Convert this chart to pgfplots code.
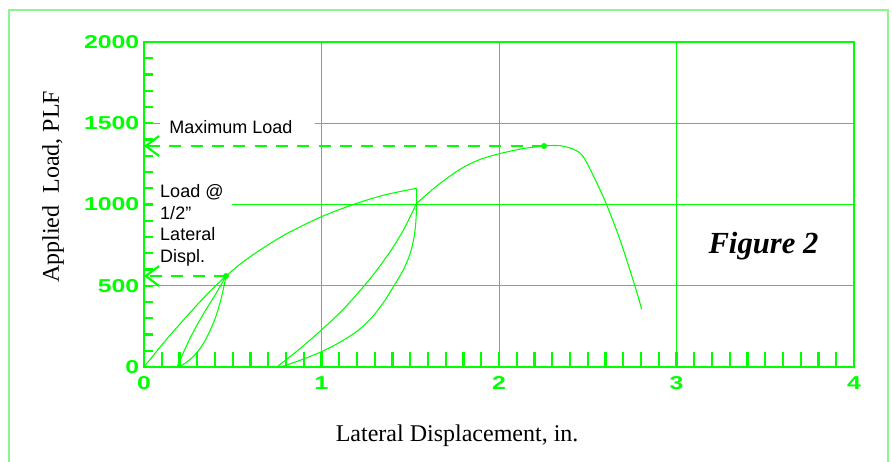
\documentclass[border=0pt]{standalone}
\usepackage{fontspec}
\setmainfont{Liberation Serif}
\newfontfamily\helv{Liberation Sans}
\newfontfamily\tickfont[FakeStretch=1.33]{Liberation Sans}
\usepackage{pgfplots}
\pgfplotsset{compat=1.18}
\usetikzlibrary{arrows.meta}
\definecolor{grn}{RGB}{0,255,0}
\definecolor{frm}{RGB}{140,245,140}
\begin{document}
\begin{tikzpicture}
\useasboundingbox (-108pt,-70.5pt) rectangle (561pt,275.25pt);
\pgfplotsset{common/.style={scale only axis, width=532.5pt, height=243.75pt,
  xmin=0, xmax=4, ymin=0, ymax=2000, clip=false, at={(0,0)}, anchor=south west}}
\begin{axis}[common,
  axis line style={grn, line width=2pt},
  xtick={0,1,2,3,4}, xticklabels={0,1,2,3,4},
  ytick={0,500,1000,1500,2000}, yticklabels={0,500,1000,1500,2000},
  minor y tick num=4,
  xtick pos=bottom, ytick pos=left, tick align=inside,
  major tick length=6.75pt, minor tick length=6.75pt,
  tick style={grn, line width=1.8pt},
  grid=major, major grid style={grn, line width=0.7pt},
  ticklabel style={font=\tickfont\bfseries\fontsize{14pt}{16pt}\selectfont, text=grn},
  xticklabel style={yshift=-3.5pt},
]
% white boxes behind the annotations
\fill[white] (axis cs:0.09,1450) rectangle (axis cs:0.963,1550);
\fill[white] (axis cs:0.05,950) rectangle (axis cs:0.496,1050);

% initial loading
\addplot[grn, line width=0.8pt, smooth] coordinates {
(0,0) (0.1,135) (0.2,262) (0.3,383) (0.38,475) (0.462,560)};
% first unloading
\addplot[grn, line width=0.8pt, smooth] coordinates {
(0.462,560) (0.447,480) (0.428,394) (0.398,290) (0.355,185) (0.32,120) (0.276,62) (0.24,30) (0.2,0)};
% first reloading
\addplot[grn, line width=0.8pt, smooth] coordinates {
(0.186,0) (0.26,178) (0.33,318) (0.40,442) (0.462,560)};
% backbone to first peak
\addplot[grn, line width=0.8pt, smooth] coordinates {
(0.462,560) (0.55,640) (0.654,720) (0.8,818) (1.0,925) (1.198,1007) (1.36,1060) (1.536,1100)};
% second unloading
\addplot[grn, line width=0.8pt, smooth] coordinates {
(1.536,1100) (1.536,1007) (1.532,900) (1.522,802) (1.50,700) (1.461,597) (1.405,494) (1.35,398) (1.28,300) (1.2,220) (1.1,150) (1.0,94) (0.9,50) (0.83,22) (0.766,0)};
% second reloading
\addplot[grn, line width=0.8pt, smooth] coordinates {
(0.748,0) (0.87,105) (1.0,228) (1.12,352) (1.236,494) (1.32,608) (1.405,740) (1.47,860) (1.536,1007)};
% backbone to maximum and descent
\addplot[grn, line width=0.8pt, smooth] coordinates {
(1.536,1007) (1.611,1079) (1.668,1130) (1.75,1195) (1.818,1240) (1.9,1280) (2.0,1312) (2.13,1343) (2.254,1360) (2.344,1362) (2.419,1340) (2.475,1294) (2.55,1135) (2.607,997) (2.682,782) (2.766,498) (2.804,355)};

% dashed leaders with arrows
\addplot[grn, line width=1.6pt, dash pattern=on 9pt off 7pt,
  -{Straight Barb[length=10pt,width=15pt,line width=1.6pt]}] coordinates {(2.254,1360) (0,1360)};
\addplot[grn, line width=1.6pt, dash pattern=on 9pt off 7pt,
  -{Straight Barb[length=10pt,width=15pt,line width=1.6pt]}] coordinates {(0.462,560) (0,560)};
% key points
\addplot[grn, only marks, mark=*, mark size=2pt] coordinates {(0.462,560) (2.254,1360)};

% annotations
\node[anchor=base west, inner sep=0pt, font=\helv\fontsize{13.5pt}{16pt}\selectfont] at (axis cs:0.141,1434) {Maximum Load};
\node[anchor=base west, inner sep=0pt, font=\helv\fontsize{13.5pt}{16pt}\selectfont] at (axis cs:0.09,1042) {Load @};
\node[anchor=base west, inner sep=0pt, font=\helv\fontsize{13.5pt}{16pt}\selectfont] at (axis cs:0.09,909) {1/2”};
\node[anchor=base west, inner sep=0pt, font=\helv\fontsize{13.5pt}{16pt}\selectfont] at (axis cs:0.09,777) {Lateral};
\node[anchor=base west, inner sep=0pt, font=\helv\fontsize{13.5pt}{16pt}\selectfont] at (axis cs:0.09,644) {Displ.};
\node[anchor=base, inner sep=0pt, font=\bfseries\itshape\fontsize{23pt}{26pt}\selectfont] at (axis cs:3.49,700) {Figure 2};

% axis titles
\node[anchor=base, inner sep=0pt, font=\fontsize{18pt}{20pt}\selectfont] at (axis cs:1.764,-460) {Lateral Displacement, in.};
\node[anchor=base, rotate=90, inner sep=0pt, font=\fontsize{18pt}{20pt}\selectfont] at (axis cs:-0.479,1108) {Applied\ \ Load, PLF};
\end{axis}
\begin{axis}[common, axis x line*=bottom, axis y line=none, ytick=\empty,
  xtick={0,1,2,3,4}, xticklabels={,,,,}, minor x tick num=9, tick align=inside,
  major tick length=11.25pt, minor tick length=11.25pt,
  tick style={grn, line width=1.8pt}, axis line style={grn, line width=2pt}]
\end{axis}
\draw[frm, line width=0.9pt] (-101.25pt,-90pt) rectangle (558pt,267.75pt);
\end{tikzpicture}
\end{document}
